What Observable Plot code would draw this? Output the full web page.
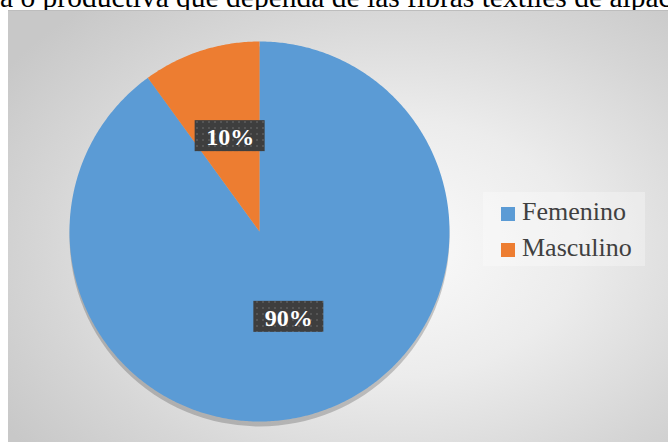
<!DOCTYPE html>
<html><head><meta charset="utf-8">
<script src="https://cdn.jsdelivr.net/npm/d3@7"></script>
<script src="https://cdn.jsdelivr.net/npm/@observablehq/plot@0.6"></script>
<style>
html,body{margin:0;padding:0;background:#fff;width:668px;height:443px;overflow:hidden;}
#title{position:absolute;left:0;top:-18px;line-height:30px;white-space:nowrap;font-family:"Liberation Serif","Times New Roman",serif;font-size:29.5px;color:#000;}
#panel{position:absolute;left:8px;top:10px;width:662px;height:431px;overflow:hidden;border-top:1px solid #bdbdbd;
 background:radial-gradient(ellipse 70% 75% at 58% 55%, #fbfbfb 0%, #ececec 40%, #d6d6d6 75%, #c8c8c8 100%);}
#chart{position:absolute;left:0;top:0;}
#legend{position:absolute;left:475px;top:181px;width:162px;height:74px;background:rgba(255,255,255,0.3);}
#legend .sw{position:absolute;width:14px;height:14px;}
#legend .lb{position:absolute;font-family:"Liberation Serif","Times New Roman",serif;font-size:26px;color:#404040;line-height:26px;}
</style></head>
<body>
<div id="title">a o productiva que dependa de las fibras textiles de alpaca</div>
<div id="panel"><div id="chart"></div><div id="legend"></div></div>
<script>
const categories = ["Femenino", "Masculino"];
const values = [90, 10];
const labels = ["90%", "10%"];
const colors = ["#5b9bd5", "#ed7d31"];

const total = d3.sum(values);
let acc = 0;
const slices = categories.map((c, i) => {
  const a0 = acc / total * 2 * Math.PI;
  acc += values[i];
  const a1 = acc / total * 2 * Math.PI;
  return {category: c, a0, a1, label: labels[i]};
});
// slice outlines (angle clockwise from 12 o'clock)
const outline = [];
for (const s of slices) {
  outline.push({category: s.category, x: 0, y: 0});
  const n = Math.max(2, Math.ceil((s.a1 - s.a0) / 0.01));
  for (let k = 0; k <= n; k++) {
    const a = s.a0 + (s.a1 - s.a0) * k / n;
    outline.push({category: s.category, x: Math.sin(a), y: Math.cos(a)});
  }
  outline.push({category: s.category, x: 0, y: 0});
}
const R = 190, cx = 251, cy = 220;
const hw = 35 / R, hh = 15.5 / R;
const labelPts = slices.map(s => {
  const m = (s.a0 + s.a1) / 2;
  return {label: s.label, x: 0.5 * Math.sin(m), y: 0.5 * Math.cos(m) + 5 / R};
});
const serif = "'Liberation Serif', 'Times New Roman', serif";

const plot = Plot.plot({
  width: 660, height: 431,
  margin: 0,
  style: {background: "transparent", overflow: "visible"},
  x: {domain: [-1, 1], range: [cx - R, cx + R], axis: null},
  y: {domain: [-1, 1], range: [cy + R, cy - R], axis: null},
  color: {domain: categories, range: colors},
  marks: [
    Plot.dot([{x: 0, y: 0}], {x: "x", y: "y", r: R, fill: "#000", fillOpacity: 0.2, stroke: "none", dy: 5, ariaLabel: "shadow"}),
    Plot.line(outline, {x: "x", y: "y", z: "category", fill: "category", stroke: "none", curve: "linear"}),
    Plot.rect(labelPts, {x1: d => d.x - hw, x2: d => d.x + hw, y1: d => d.y - hh, y2: d => d.y + hh, fill: "url(#lblpat)", ariaLabel: "lblbox"}),
    Plot.text(labelPts, {x: "x", y: "y", text: "label", fill: "#fff", fontSize: 24, fontWeight: "bold", fontFamily: serif, dy: 1})
  ]
});
const defs = d3.select(plot).insert("defs", ":first-child");
defs.append("filter").attr("id", "blur").attr("x", "-30%").attr("y", "-30%").attr("width", "160%").attr("height", "160%")
  .append("feGaussianBlur").attr("stdDeviation", 11);
const pat = defs.append("pattern").attr("id", "lblpat").attr("patternUnits", "userSpaceOnUse").attr("width", 6).attr("height", 6);
pat.append("rect").attr("width", 6).attr("height", 6).attr("fill", "#3e3e3e");
pat.append("rect").attr("x", 2).attr("y", 2).attr("width", 2).attr("height", 2).attr("fill", "#555555");
const ds = defs.append("filter").attr("id", "dshadow").attr("x", "-30%").attr("y", "-30%").attr("width", "160%").attr("height", "160%");
ds.append("feDropShadow").attr("dx", 3).attr("dy", 4).attr("stdDeviation", 2.5).attr("flood-color", "#000").attr("flood-opacity", 0.45);
d3.select(plot).selectAll('[aria-label="shadow"]').attr("filter", "url(#blur)");
d3.select(plot).selectAll('[aria-label="lblbox"]').attr("filter", "url(#dshadow)");
document.getElementById("chart").appendChild(plot);

// legend from the same categories / colors
const lg = d3.select("#legend");
categories.forEach((c, i) => {
  lg.append("div").attr("class", "sw").style("left", "18px").style("top", (15 + i * 36) + "px").style("background", colors[i]);
  lg.append("div").attr("class", "lb").style("left", "39px").style("top", (7 + i * 36) + "px").text(c);
});
</script>
</body></html>
